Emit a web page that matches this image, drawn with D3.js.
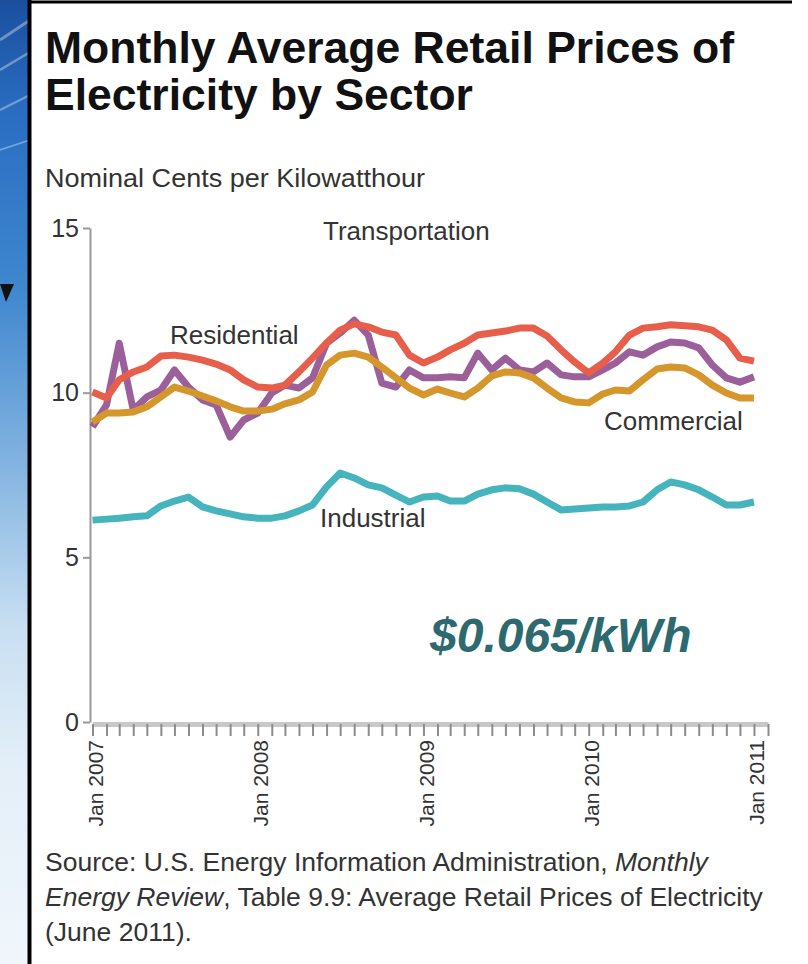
<!DOCTYPE html>
<html>
<head>
<meta charset="utf-8">
<script src="https://cdn.jsdelivr.net/npm/d3@7/dist/d3.min.js"></script>
<style>
  html, body { margin: 0; padding: 0; background: #fff; overflow: hidden; width: 808px; height: 964px; }
  svg { display: block; }
  text { font-family: "Liberation Sans", Arial, Helvetica, sans-serif; }
</style>
</head>
<body>
<svg id="chart" width="808" height="964"></svg>
<script>
// ---- Data (nominal cents per kWh, monthly Jan 2007 .. Jan 2011) ----
const startMonth = new Date(2007, 0, 1);
const endMonth = new Date(2011, 0, 1);
const axisEndMonth = new Date(2011, 1, 1);

const residential = [
  10.02, 9.84, 10.39, 10.63, 10.78, 11.11, 11.14, 11.08, 10.99, 10.87, 10.69, 10.39,
  10.17, 10.14, 10.23, 10.63, 11.05, 11.51, 11.90, 12.09, 12.00, 11.84, 11.75, 11.14,
  10.90, 11.08, 11.30, 11.50, 11.75, 11.81, 11.87, 11.96, 11.96, 11.72, 11.30, 10.93,
  10.60, 10.90, 11.24, 11.75, 11.96, 12.00, 12.06, 12.03, 12.00, 11.90, 11.60, 11.05,
  10.96
];
const transportation = [
  8.96, 9.63, 11.50, 9.47, 9.87, 10.08, 10.69, 10.17, 9.78, 9.63, 8.65, 9.17,
  9.38, 9.99, 10.23, 10.14, 10.45, 11.50, 11.81, 12.20, 11.75, 10.29, 10.17, 10.69,
  10.45, 10.45, 10.48, 10.45, 11.20, 10.69, 11.05, 10.69, 10.63, 10.90, 10.54, 10.48,
  10.48, 10.69, 10.90, 11.24, 11.14, 11.39, 11.54, 11.51, 11.36, 10.84, 10.45, 10.32,
  10.48
];
const commercial = [
  9.11, 9.38, 9.38, 9.41, 9.57, 9.87, 10.17, 10.05, 9.90, 9.75, 9.57, 9.44,
  9.44, 9.50, 9.66, 9.78, 10.02, 10.84, 11.14, 11.20, 11.08, 10.78, 10.45, 10.14,
  9.93, 10.11, 9.99, 9.87, 10.14, 10.51, 10.63, 10.60, 10.45, 10.14, 9.84, 9.72,
  9.69, 9.96, 10.08, 10.05, 10.39, 10.72, 10.78, 10.75, 10.54, 10.23, 9.99, 9.84,
  9.84
];
const industrial = [
  6.13, 6.16, 6.19, 6.23, 6.26, 6.56, 6.71, 6.83, 6.53, 6.41, 6.32, 6.23,
  6.19, 6.19, 6.26, 6.41, 6.59, 7.14, 7.56, 7.41, 7.20, 7.11, 6.89, 6.68,
  6.83, 6.86, 6.71, 6.71, 6.92, 7.05, 7.11, 7.08, 6.92, 6.68, 6.44, 6.47,
  6.50, 6.53, 6.53, 6.56, 6.68, 7.05, 7.29, 7.20, 7.05, 6.83, 6.59, 6.59,
  6.68
];

const yTicks = [0, 5, 10, 15];
const xTickLabels = ["Jan 2007", "Jan 2008", "Jan 2009", "Jan 2010", "Jan 2011"];

const seriesNames = ["Transportation", "Commercial", "Residential", "Industrial"];
const seriesValues = [transportation, commercial, residential, industrial];
const seriesColors = ["#9b5f99", "#d5962c", "#e75f4b", "#45b4bd"];

// ---- Drawing ----
const svg = d3.select("#chart");
const months = d3.timeMonth.range(startMonth, d3.timeMonth.offset(endMonth, 1));
const tickMonths = d3.timeMonth.range(startMonth, d3.timeMonth.offset(axisEndMonth, 1));

// slide background strip on the left
const defs = svg.append("defs");
const grad = defs.append("linearGradient").attr("id", "bg").attr("x1", 0).attr("y1", 0).attr("x2", 0).attr("y2", 1);
[[0, "#1b4f9e"], [0.12, "#2a6ec2"], [0.3, "#3f87cf"], [0.5, "#8ab8e2"], [0.65, "#c8dff2"], [0.8, "#e4eff8"], [1, "#f0f6fb"]]
  .forEach(([o, c]) => grad.append("stop").attr("offset", o).attr("stop-color", c));
svg.append("rect").attr("x", 0).attr("y", 0).attr("width", 30).attr("height", 964).attr("fill", "url(#bg)");
// light streaks
[[0, 40, 30, 20], [0, 70, 30, 52], [0, 110, 30, 95], [0, 150, 30, 140]].forEach(([x1, y1, x2, y2], i) => {
  svg.append("line").attr("x1", x1).attr("y1", y1).attr("x2", x2).attr("y2", y2)
    .attr("stroke", "#ffffff").attr("stroke-opacity", 0.35).attr("stroke-width", 3 - i * 0.4);
});
svg.append("path").attr("d", "M0,284 L14,284 L6,302 Z").attr("fill", "#111");

// panel
svg.append("rect").attr("x", 30).attr("y", 2).attr("width", 778).attr("height", 962).attr("fill", "#ffffff");
svg.append("line").attr("x1", 29.5).attr("y1", 0).attr("x2", 29.5).attr("y2", 964).attr("stroke", "#000").attr("stroke-width", 4);
svg.append("line").attr("x1", 28).attr("y1", 2).attr("x2", 792).attr("y2", 2).attr("stroke", "#000").attr("stroke-width", 3);

// titles
svg.append("text").attr("x", 45).attr("y", 63).attr("font-size", 44.5).attr("font-weight", "bold").attr("fill", "#111")
  .text("Monthly Average Retail Prices of");
svg.append("text").attr("x", 45).attr("y", 110).attr("font-size", 44.5).attr("font-weight", "bold").attr("fill", "#111")
  .text("Electricity by Sector");
svg.append("text").attr("x", 45).attr("y", 187).attr("font-size", 26).attr("fill", "#333")
  .attr("textLength", 380).attr("lengthAdjust", "spacingAndGlyphs")
  .text("Nominal Cents per Kilowatthour");

// scales
const x = d3.scaleTime().domain([startMonth, axisEndMonth]).range([92.5, 768]);
const y = d3.scaleLinear().domain([0, 15]).range([722, 228]);

// y axis
const yAxis = svg.append("g").attr("transform", "translate(90,0)")
  .call(d3.axisLeft(y).tickValues(yTicks).tickSize(7).tickSizeOuter(0).tickPadding(4));
yAxis.select(".domain").attr("stroke", "#999").attr("stroke-width", 2);
yAxis.selectAll(".tick line").attr("stroke", "#999").attr("stroke-width", 2);
yAxis.selectAll(".tick text").attr("font-size", 25).attr("fill", "#333")
  .attr("font-family", "'Liberation Sans', Arial, sans-serif");

// x axis
const xAxis = svg.append("g").attr("transform", "translate(0,724)")
  .call(d3.axisBottom(x).tickValues(tickMonths).tickSize(12).tickSizeOuter(0).tickFormat(() => ""));
xAxis.select(".domain").attr("stroke", "#c8c8c8").attr("stroke-width", 5);
xAxis.selectAll(".tick line").attr("stroke", "#8c8c8c").attr("stroke-width", 2);
xAxis.selectAll(".tick text").remove();
const janMonths = tickMonths.filter(d => d.getMonth() === 0);
svg.append("g").selectAll("text").data(janMonths).join("text")
  .attr("transform", d => `translate(${x(d) + 3 + 7.5},740) rotate(-90)`)
  .attr("text-anchor", "end")
  .attr("font-size", 21)
  .attr("fill", "#333")
  .text((d, i) => xTickLabels[i]);

// lines
const line = d3.line().x((d, i) => x(months[i])).y(d => y(d)).curve(d3.curveLinear);
svg.append("g").selectAll("path").data(seriesValues).join("path")
  .attr("d", d => line(d))
  .attr("fill", "none")
  .attr("stroke", (d, i) => seriesColors[i])
  .attr("stroke-width", 7)
  .attr("stroke-linejoin", "round")
  .attr("stroke-linecap", "butt");

// series labels
const labelPos = {
  Transportation: [323, 240],
  Residential: [170, 344],
  Commercial: [604, 430],
  Industrial: [320, 527]
};
seriesNames.forEach(name => {
  svg.append("text").attr("x", labelPos[name][0]).attr("y", labelPos[name][1])
    .attr("font-size", 26).attr("fill", "#333").text(name);
});

// annotation
svg.append("text").attr("x", 430).attr("y", 652).attr("font-size", 48).attr("font-weight", "bold")
  .attr("font-style", "italic").attr("fill", "#2d6a6f").text("$0.065/kWh");

// source
const src = svg.append("text").attr("x", 45).attr("font-size", 26.5).attr("fill", "#333");
const l1 = src.append("tspan").attr("x", 45).attr("y", 871);
l1.append("tspan").text("Source: U.S. Energy Information Administration, ");
l1.append("tspan").attr("font-style", "italic").text("Monthly");
const l2 = src.append("tspan").attr("x", 45).attr("y", 906);
l2.append("tspan").attr("font-style", "italic").text("Energy Review");
l2.append("tspan").text(", Table 9.9: Average Retail Prices of Electricity");
src.append("tspan").attr("x", 45).attr("y", 941).text("(June 2011).");
</script>
</body>
</html>
